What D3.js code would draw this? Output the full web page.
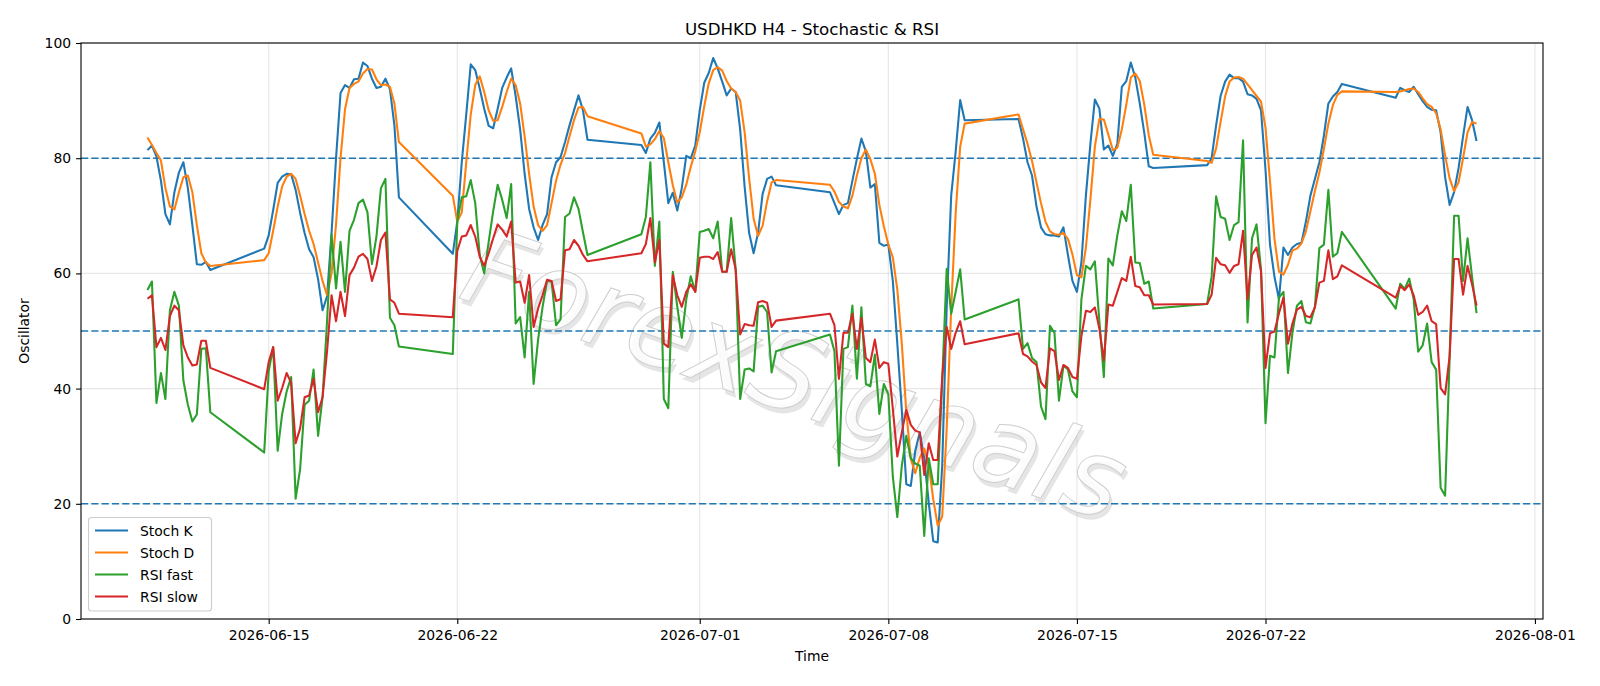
<!DOCTYPE html>
<html>
<head>
<meta charset="utf-8">
<script src="https://cdn.jsdelivr.net/npm/d3@7"></script>
<style>
  html, body { margin: 0; padding: 0; background: #fff; }
  svg { display: block; font-family: "DejaVu Sans", sans-serif; }
</style>
</head>
<body>
<svg id="chart" width="1600" height="686"></svg>
<script>
// ---- trading sessions (4-hour bars): start time and number of bars ----
const sessionStarts = ["2026-06-10T12:00:00Z","2026-06-14T20:00:00Z","2026-06-21T20:00:00Z","2026-06-28T20:00:00Z",
                       "2026-07-05T20:00:00Z","2026-07-12T20:00:00Z","2026-07-19T20:00:00Z","2026-07-26T20:00:00Z"];
const sessionBars = [15, 31, 31, 31, 31, 31, 31, 19];

const stochK = [
  81.4,82.2,80.3,76.1,70.3,68.5,74.1,77.5,79.3,74.8,68.4,61.6,61.5,62.0,60.6,
  64.3,66.6,71.0,75.7,76.8,77.3,77.2,74.5,70.5,67.0,64.2,62.8,59.0,53.6,56.0,67.0,80.0,91.3,92.7,92.2,93.7,93.8,96.6,96.0,93.8,92.2,92.4,93.8,92.0,85.7,73.2,
  63.4,69.0,79.3,87.6,96.3,95.3,92.1,88.6,85.6,85.2,88.6,92.2,94.0,95.6,90.8,85.0,77.3,71.2,68.0,65.8,68.4,70.3,76.7,79.3,80.2,82.8,85.7,88.3,90.9,88.3,83.2,
  82.3,80.9,83.4,84.4,86.2,79.3,72.2,74.0,70.9,74.8,80.4,80.0,82.2,88.3,93.1,94.8,97.4,95.6,93.3,90.9,92.1,91.5,85.0,75.0,67.0,63.5,67.1,73.8,76.4,76.8,75.3,
  74.1,72.2,70.3,71.9,72.2,76.1,79.9,83.4,81.2,74.9,75.5,65.3,64.8,65.0,58.7,47.8,36.3,23.4,23.1,29.2,32.4,27.9,20.2,13.5,13.3,26.6,54.2,73.5,81.2,90.1,86.6,
  86.8,83.4,79.3,77.0,71.6,68.0,66.8,66.6,66.6,66.4,68.0,63.2,58.7,56.8,61.9,73.5,82.5,90.2,88.6,81.5,82.2,80.4,82.5,92.4,93.4,96.6,94.0,89.5,84.4,78.6,78.3,
  78.8,80.0,85.7,90.8,93.3,94.5,93.9,93.9,93.3,91.1,90.9,90.3,88.3,78.0,65.0,59.4,55.5,64.5,63.2,64.5,65.1,65.3,69.0,73.5,76.4,79.3,83.9,89.5,90.7,91.5,92.9,
  90.5,92.2,91.8,91.5,92.4,91.1,89.9,88.9,88.4,88.3,84.5,76.7,71.9,74.1,78.3,83.8,88.9,86.6,83.0
];
const stochD = [
  83.6,82.3,80.9,79.6,74.8,71.6,71.1,74.1,76.7,77.0,74.1,68.4,63.5,61.9,61.3,
  62.3,63.5,67.4,71.6,75.1,76.8,77.3,76.4,73.5,70.3,67.4,65.1,61.9,58.7,56.2,60.0,68.5,80.0,88.5,92.2,92.9,93.3,94.7,95.5,95.4,93.7,92.7,92.8,92.4,89.5,82.8,
  73.5,69.0,70.6,79.3,87.6,92.7,94.2,91.5,88.3,86.5,86.6,88.9,91.5,93.8,92.7,89.5,83.8,77.3,71.6,68.4,67.4,68.4,72.2,76.1,78.9,80.9,83.8,86.6,88.8,88.9,87.3,
  84.3,82.0,82.4,83.3,84.7,83.5,79.3,75.3,72.3,73.2,75.4,78.5,81.2,84.5,89.0,93.0,95.3,95.8,95.2,93.4,92.1,91.5,90.0,84.5,76.5,69.5,66.5,68.3,72.5,75.8,76.2,
  75.4,74.2,72.4,71.6,71.3,73.5,77.0,80.0,81.5,79.8,77.3,71.9,68.2,65.0,62.8,57.2,47.8,36.0,27.8,25.3,28.0,29.6,26.8,20.8,16.2,17.8,33.0,54.0,70.5,82.0,86.0,
  87.6,85.0,82.5,79.5,75.8,72.2,69.0,67.3,66.8,66.7,67.0,66.0,63.3,59.7,59.3,64.5,72.8,82.0,86.8,86.7,84.1,81.4,81.8,85.0,89.3,94.0,94.7,93.4,89.3,84.0,80.6,
  79.5,79.2,81.7,86.3,90.7,93.3,94.0,94.1,93.8,92.8,91.8,90.8,89.8,85.3,76.0,66.0,60.3,59.8,61.5,64.0,64.3,65.2,67.3,70.8,74.3,77.5,81.6,86.0,89.2,91.0,91.6,
  91.5,91.6,91.8,92.0,92.1,91.5,90.4,89.4,88.9,87.8,85.0,80.5,76.5,74.3,75.8,80.0,84.5,86.3,86.0
];
const rsiFast = [
  57.1,58.6,37.5,42.7,38.2,53.6,56.8,54.4,41.4,37.2,34.3,35.5,46.9,47.0,35.9,
  28.9,43.0,47.2,29.2,35.6,39.5,42.0,20.9,26.0,37.2,37.9,43.3,31.8,38.5,51.7,66.8,57.4,65.5,56.8,67.4,69.3,72.2,72.8,70.6,61.6,66.4,74.8,76.4,52.3,51.0,47.3,
  46.0,69.0,73.2,73.4,76.2,72.2,63.2,60.0,65.5,70.8,75.4,72.8,69.6,75.5,51.3,52.4,45.4,56.8,40.8,48.5,54.2,58.7,58.6,51.0,52.0,69.8,70.4,73.2,71.2,67.1,63.2,
  66.8,69.8,79.3,61.3,69.0,38.2,36.6,60.3,54.2,48.8,55.5,59.5,56.8,67.2,67.4,67.7,66.1,69.0,60.3,60.3,69.6,60.7,38.2,43.3,43.5,43.0,54.2,54.4,53.3,42.8,46.5,
  49.4,46.5,26.6,46.9,47.2,54.4,41.7,54.1,40.8,40.4,45.9,35.6,40.8,39.0,24.7,17.7,26.6,31.8,27.9,27.0,26.6,14.4,27.9,23.4,23.4,41.4,60.8,53.0,56.8,60.7,52.0,
  55.5,46.9,47.9,45.3,44.6,36.9,34.7,50.9,49.7,37.9,44.0,43.3,39.5,38.5,55.5,61.3,60.7,62.1,51.7,42.0,62.6,61.4,66.6,70.8,69.1,75.4,61.9,61.8,58.2,58.6,53.9,
  54.7,59.4,73.4,69.8,69.5,65.8,68.4,68.9,83.1,51.5,66.1,68.5,60.7,34.0,45.7,45.4,55.8,56.8,42.7,49.7,54.4,55.2,51.5,51.3,54.2,64.4,65.0,74.5,62.9,63.5,67.2,
  53.9,58.2,57.3,59.1,55.5,46.4,47.5,51.3,44.6,43.3,22.8,21.4,45.2,70.0,70.0,58.7,66.1,59.4,53.1
];
const rsiSlow = [
  55.6,56.2,47.2,48.8,46.7,52.6,54.4,53.6,47.5,45.4,44.0,44.2,48.3,48.3,43.6,
  39.9,44.6,47.2,37.9,40.1,42.7,41.0,30.5,33.1,38.5,38.8,41.7,35.9,38.5,46.5,56.2,51.7,56.8,52.6,59.7,61.0,62.9,63.4,62.5,58.7,61.2,65.8,67.1,55.5,54.9,53.0,
  52.4,63.9,66.4,66.6,68.4,66.4,62.9,61.3,63.5,66.1,68.5,67.6,66.4,69.0,58.4,58.6,54.9,59.7,50.7,53.9,56.2,58.9,58.7,55.2,55.5,64.0,64.2,65.8,64.8,63.2,62.1,
  63.5,65.1,69.6,61.9,65.8,47.8,47.2,59.7,56.2,54.2,56.8,58.1,56.8,62.7,62.9,62.9,62.5,63.7,60.3,60.3,64.2,60.7,49.4,51.2,51.0,50.9,55.0,55.2,54.9,50.7,51.8,
  53.0,51.0,41.7,49.7,49.7,53.0,46.9,52.3,45.3,44.6,48.5,43.6,44.6,44.3,36.5,28.2,32.4,36.3,33.7,32.7,32.4,25.0,30.5,27.6,27.6,42.0,50.7,46.9,49.7,51.7,47.7,
  49.6,46.0,45.6,44.7,44.1,41.1,40.1,47.0,46.5,41.5,44.1,43.6,42.0,41.7,49.1,53.5,53.3,54.1,50.4,44.9,54.6,54.4,56.8,59.2,58.7,62.9,57.8,57.6,56.2,56.2,54.6,
  54.7,56.3,62.7,61.6,61.4,60.1,61.3,61.6,67.4,55.5,63.2,64.5,60.3,43.6,49.6,49.9,53.1,55.8,47.8,51.3,53.7,54.2,52.6,52.4,54.1,58.4,58.7,64.0,59.0,59.5,61.4,
  55.8,57.8,57.1,58.1,56.2,52.8,53.3,54.4,51.7,51.2,40.1,39.0,45.6,62.5,62.5,56.3,61.3,58.1,54.4
];

const seriesNames = ["Stoch K", "Stoch D", "RSI fast", "RSI slow"];
const seriesColors = ["#1f77b4", "#ff7f0e", "#2ca02c", "#d62728"];
const levelLines = [80, 50, 20];
const yTicks = [0, 20, 40, 60, 80, 100];
const xTickLabels = ["2026-06-15","2026-06-22","2026-07-01","2026-07-08","2026-07-15","2026-07-22","2026-08-01"];
const titleText = "USDHKD H4 - Stochastic & RSI";
const xLabel = "Time";
const yLabel = "Oscillator";
const watermark = "ForexSignals";

// ---- build timestamps from sessions ----
const times = [];
sessionStarts.forEach((s, i) => {
  const st = new Date(s);
  for (let k = 0; k < sessionBars[i]; k++) times.push(new Date(st.getTime() + k * 4 * 3600 * 1000));
});
const allSeries = [stochK, stochD, rsiFast, rsiSlow];

// ---- layout ----
const L = 81, R = 1543, T = 43, B = 619;
const svg = d3.select("#chart");

const t0 = times[0].getTime(), t1 = times[times.length - 1].getTime();
const pad = (t1 - t0) * 0.05;
const x = d3.scaleUtc().domain([new Date(t0 - pad), new Date(t1 + pad)]).range([L, R]);
const y = d3.scaleLinear().domain([0, 100]).range([B, T]);

const parseDay = d3.utcParse("%Y-%m-%d");
const xTicks = xTickLabels.map(parseDay);

// grid
const grid = svg.append("g");
grid.selectAll("line.gx").data(xTicks).enter().append("line")
  .attr("x1", d => x(d)).attr("x2", d => x(d)).attr("y1", T).attr("y2", B)
  .attr("stroke", "#b0b0b0").attr("stroke-opacity", 0.3).attr("stroke-width", 1.1);
grid.selectAll("line.gy").data(yTicks).enter().append("line")
  .attr("x1", L).attr("x2", R).attr("y1", d => y(d)).attr("y2", d => y(d))
  .attr("stroke", "#b0b0b0").attr("stroke-opacity", 0.3).attr("stroke-width", 1.1);

// watermark
const wm = svg.append("g").attr("transform", "translate(795,374) rotate(19)");
wm.append("text").attr("x", 4).attr("y", 4).attr("text-anchor", "middle").attr("dominant-baseline", "central")
  .attr("font-size", 108).attr("font-style", "italic").attr("fill", "#b4b4b4").attr("fill-opacity", 0.35)
  .text(watermark);
wm.append("text").attr("text-anchor", "middle").attr("dominant-baseline", "central")
  .attr("font-size", 108).attr("font-style", "italic").attr("fill", "#ffffff").attr("fill-opacity", 0.85)
  .attr("stroke", "#cfcfcf").attr("stroke-width", 1)
  .text(watermark);

// level lines
svg.append("g").selectAll("line").data(levelLines).enter().append("line")
  .attr("x1", L).attr("x2", R).attr("y1", d => y(d)).attr("y2", d => y(d))
  .attr("stroke", "#1f77b4").attr("stroke-width", 1.4).attr("stroke-dasharray", "7.2,3.1");

// series
const line = d3.line().x((d, i) => x(times[i])).y(d => y(d));
svg.append("g").selectAll("path").data(allSeries).enter().append("path")
  .attr("d", d => line(d)).attr("fill", "none")
  .attr("stroke", (d, i) => seriesColors[i]).attr("stroke-width", 2.08)
  .attr("stroke-linejoin", "round").attr("stroke-linecap", "butt");

// axes
const xAxis = d3.axisBottom(x).tickValues(xTicks).tickFormat(d3.utcFormat("%Y-%m-%d")).tickSize(4.9).tickPadding(5);
const yAxis = d3.axisLeft(y).tickValues(yTicks).tickSize(4.9).tickPadding(5);
const gx = svg.append("g").attr("transform", `translate(0,${B})`).call(xAxis);
const gy = svg.append("g").attr("transform", `translate(${L},0)`).call(yAxis);
[gx, gy].forEach(g => {
  g.select(".domain").remove();
  g.selectAll("line").attr("stroke", "#000").attr("stroke-width", 1.1);
  g.selectAll("text").attr("font-size", 13.9).attr("fill", "#000").attr("font-family", "DejaVu Sans");
});
gx.selectAll("text").attr("dy", "0.8em");

// frame
svg.append("rect").attr("x", L).attr("y", T).attr("width", R - L).attr("height", B - T)
  .attr("fill", "none").attr("stroke", "#000").attr("stroke-width", 1.1);

// title & labels
svg.append("text").attr("x", (L + R) / 2).attr("y", 35).attr("text-anchor", "middle")
  .attr("font-size", 16.7).text(titleText);
svg.append("text").attr("x", (L + R) / 2).attr("y", 661).attr("text-anchor", "middle")
  .attr("font-size", 13.9).text(xLabel);
svg.append("text").attr("transform", `translate(29,${(T + B) / 2}) rotate(-90)`).attr("text-anchor", "middle")
  .attr("font-size", 13.9).text(yLabel);

// legend
const lg = svg.append("g");
lg.append("rect").attr("x", 88.5).attr("y", 517.5).attr("width", 123).attr("height", 93.5).attr("rx", 3)
  .attr("fill", "#fff").attr("fill-opacity", 0.8).attr("stroke", "#cccccc").attr("stroke-width", 1.1);
seriesNames.forEach((n, i) => {
  const yy = 530.5 + i * 22;
  lg.append("line").attr("x1", 95).attr("x2", 128).attr("y1", yy).attr("y2", yy)
    .attr("stroke", seriesColors[i]).attr("stroke-width", 2.08);
  lg.append("text").attr("x", 140).attr("y", yy).attr("dominant-baseline", "central")
    .attr("font-size", 13.9).text(n);
});
</script>
</body>
</html>
